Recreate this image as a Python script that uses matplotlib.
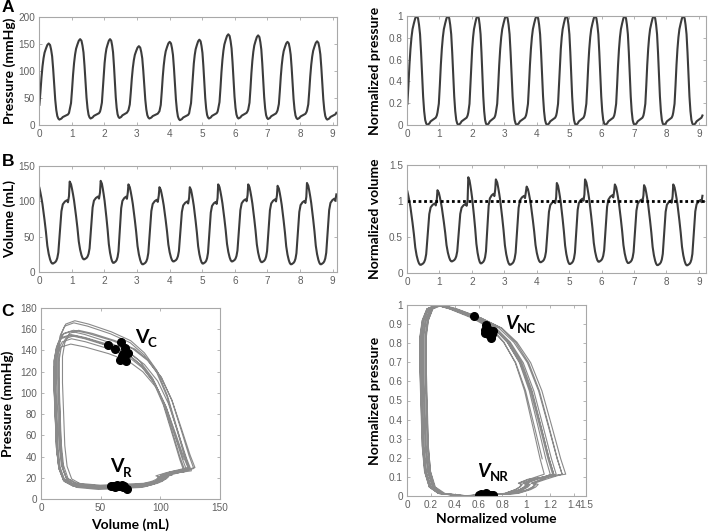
import numpy as np
import matplotlib.pyplot as plt

# one typical beat, read off the pressure-volume loop (time offset s, mmHg, mL)
beat_off = [0.00, 0.04, 0.07, 0.10, 0.13, 0.16, 0.19, 0.23, 0.27, 0.31, 0.35, 0.38, 0.41, 0.44,
            0.47, 0.50, 0.53, 0.56, 0.59, 0.62, 0.65, 0.68, 0.72, 0.78, 0.84, 0.87, 0.90]
beat_p = [28, 40, 65, 93, 115, 131, 142, 150, 157, 160, 157, 148, 135, 110,
          80, 50, 30, 18, 13, 11, 12, 13, 16, 18, 20, 21, 24]
beat_v = [128, 124, 117, 109, 100, 89, 77, 60, 40, 28, 20, 16, 14, 14,
          15, 16, 18, 22, 30, 50, 70, 90, 100, 104, 106, 103, 112]
beat_len = 0.92

# per beat values read from the time series
beat_start = [-0.03, 0.94, 1.89, 2.74, 3.69, 4.62, 5.49, 6.41, 7.31, 8.21]
last_end = 9.13
p_max = [151, 159, 159, 146, 154, 158, 168, 166, 154, 155]
p_min = [10, 12, 13, 12, 9, 12, 12, 11, 11, 10]
v_max = [123, 128, 129, 124, 120, 120, 124, 124, 122, 126]
v_min = [12, 18, 13, 11, 15, 12, 15, 14, 11, 11]
nv_max = [1.17, 1.15, 1.33, 1.30, 1.20, 1.25, 1.30, 1.23, 1.22, 1.23]

# marked points on the loops
vc_vol = [56, 62, 67, 70.4, 73.2, 69, 66.2, 71.2, 68, 69.5]
vc_pres = [145, 141.5, 147.5, 142.5, 137.8, 137, 131, 130, 134.6, 133]
vr_vol = [59, 62, 65, 67.6, 69.5, 71.8, 60.6, 63.4, 66.2, 68.4]
vr_pres = [12.5, 11.3, 12.5, 13.1, 11.9, 9.7, 11.9, 13.4, 11.9, 11.3]
vnc_vol = [0.56, 0.66, 0.656, 0.65, 0.69, 0.718, 0.70, 0.707, 0.68, 0.712]
vnc_pres = [0.94, 0.895, 0.87, 0.855, 0.87, 0.865, 0.84, 0.825, 0.85, 0.85]
vnr_vol = [0.60, 0.623, 0.642, 0.66, 0.684, 0.707, 0.61, 0.67, 0.718, 0.65]
vnr_pres = [0.003, 0.01, 0.003, 0.017, 0.007, 0.003, 0.0, 0.003, 0.003, 0.007]

# build the traces beat by beat
bo = np.array(beat_off)
bp = np.array(beat_p, dtype=float)
bv = np.array(beat_v, dtype=float)
p_shape = (bp - bp.min()) / (bp.max() - bp.min())
v_shape = (bv - bv.min()) / (bv.max() - bv.min())
ends = beat_start[1:] + [last_end]

t, P, V, Pn, Vn = [], [], [], [], []
for i in range(len(beat_start)):
    T = ends[i] - beat_start[i]
    t.append(beat_start[i] + bo * T / beat_len)
    P.append(p_min[i] + p_shape * (p_max[i] - p_min[i]))
    vv = v_min[i] + v_shape * (v_max[i] - v_min[i])
    V.append(vv)
    Pn.append(p_shape)
    Vn.append(vv / (v_max[i] / nv_max[i]))
t = np.concatenate(t)
keep = t >= 0
t = t[keep]
P = np.concatenate(P)[keep]
V = np.concatenate(V)[keep]
Pn = np.concatenate(Pn)[keep]
Vn = np.concatenate(Vn)[keep]

W, H = 709, 532
fig = plt.figure(figsize=(W / 100, H / 100), dpi=100)


def box(x0, y0, x1, y1):
    return [x0 / W, 1 - y1 / H, (x1 - x0) / W, (y1 - y0) / H]


lab = dict(family='Lato', fontweight='bold', fontsize=10)
line_c = '#3c3c3c'
loop_c = '#8a8a8a'


def style(ax):
    for s in ax.spines.values():
        s.set_color('#a8a8a8')
        s.set_linewidth(0.8)
    ax.tick_params(direction='in', top=True, right=True, length=2.5, width=0.6,
                   color='#a8a8a8', labelcolor='#606060', labelsize=7.2, pad=3)
    for tl in ax.get_xticklabels() + ax.get_yticklabels():
        tl.set_family('Liberation Sans')


def ylab(ax, text, px, x0, x1):
    ax.set_ylabel(text, **lab)
    ax.yaxis.set_label_coords((px + 6 - x0) / (x1 - x0), 0.5)


def vlabel(ax, x, y, sub, italic=False):
    ax.text(x, y, 'V', family='Lato', fontweight='bold', fontsize=14,
            style='italic' if italic else 'normal')
    ax.annotate(sub, (x, y), xytext=(9, -3), textcoords='offset points',
                family='Lato', fontweight='bold', fontsize=9.5)


axA1 = fig.add_axes(box(39, 17, 337, 125))
axA2 = fig.add_axes(box(407, 16, 706, 125))
axB1 = fig.add_axes(box(39, 166, 337, 272))
axB2 = fig.add_axes(box(407, 165, 706, 273))
axC1 = fig.add_axes(box(41, 308, 220, 499))
axC2 = fig.add_axes(box(407, 305, 586, 496))

axA1.plot(t, P, color=line_c, lw=1.5)
axA1.set_xlim(0, 9.13)
axA1.set_ylim(0, 200)
axA1.set_yticks([0, 50, 100, 150, 200])
ylab(axA1, 'Pressure (mmHg)', 10, 39, 337)

axA2.plot(t, Pn, color=line_c, lw=1.5)
axA2.set_xlim(0, 9.22)
axA2.set_ylim(0, 1)
axA2.set_yticks([0, 0.2, 0.4, 0.6, 0.8, 1])
axA2.set_yticklabels(['0', '0.2', '0.4', '0.6', '0.8', '1'])
ylab(axA2, 'Normalized pressure', 375, 407, 706)

axB1.plot(t, V, color=line_c, lw=1.5)
axB1.set_xlim(0, 9.13)
axB1.set_ylim(0, 150)
axB1.set_yticks([0, 50, 100, 150])
ylab(axB1, 'Volume (mL)', 10, 39, 337)

axB2.plot(t, Vn, color=line_c, lw=1.5)
axB2.axhline(1, color='k', lw=2, ls=(0, (1, 1)))
axB2.set_xlim(0, 9.22)
axB2.set_ylim(0, 1.5)
axB2.set_yticks([0, 0.5, 1, 1.5])
axB2.set_yticklabels(['0', '0.5', '1', '1.5'])
ylab(axB2, 'Normalized volume', 375, 407, 706)

for ax in (axA1, axA2, axB1, axB2):
    ax.set_xticks(range(10))

axC1.plot(V, P, color=loop_c, lw=0.8)
axC1.plot(vc_vol, vc_pres, 'o', color='k', ms=5.5)
axC1.plot(vr_vol, vr_pres, 'o', color='k', ms=5.5)
axC1.set_xlim(0, 150)
axC1.set_ylim(0, 180)
axC1.set_xticks([0, 50, 100, 150])
axC1.set_yticks(range(0, 181, 20))
ylab(axC1, 'Pressure (mmHg)', 8, 41, 220)
axC1.set_xlabel('Volume (mL)', **lab)
axC1.xaxis.set_label_coords(0.5, (499 - 518) / 191)
vlabel(axC1, 79, 147, 'C')
vlabel(axC1, 58, 25, 'R')

axC2.plot(Vn, Pn, color=loop_c, lw=0.8)
axC2.plot(vnc_vol, vnc_pres, 'o', color='k', ms=5.5)
axC2.plot(vnr_vol, vnr_pres, 'o', color='k', ms=5.5)
axC2.set_xlim(0, 1.5)
axC2.set_ylim(0, 1)
axC2.set_xticks([0, 0.2, 0.4, 0.6, 0.8, 1, 1.2, 1.4, 1.5])
axC2.set_xticklabels(['0', '0.2', '0.4', '0.6', '0.8', '1', '1.2', '1.4', '1.5'])
axC2.set_yticks(np.round(np.arange(0, 1.01, 0.1), 1))
axC2.set_yticklabels(['0', '0.1', '0.2', '0.3', '0.4', '0.5', '0.6', '0.7', '0.8', '0.9', '1'])
ylab(axC2, 'Normalized pressure', 375, 407, 586)
axC2.set_xlabel('Normalized volume', **lab)
axC2.xaxis.set_label_coords(0.5, (496 - 513) / 191)
vlabel(axC2, 0.82, 0.875, 'NC', italic=True)
vlabel(axC2, 0.59, 0.1, 'NR', italic=True)

for ax in (axA1, axA2, axB1, axB2, axC1, axC2):
    style(ax)

for letter, y in (('A', 8), ('B', 162), ('C', 312)):
    fig.text(8 / W, 1 - y / H, letter, family='Liberation Sans', fontweight='bold',
             fontsize=12.5, va='center', ha='center')

fig.savefig('out.png', dpi=100)
